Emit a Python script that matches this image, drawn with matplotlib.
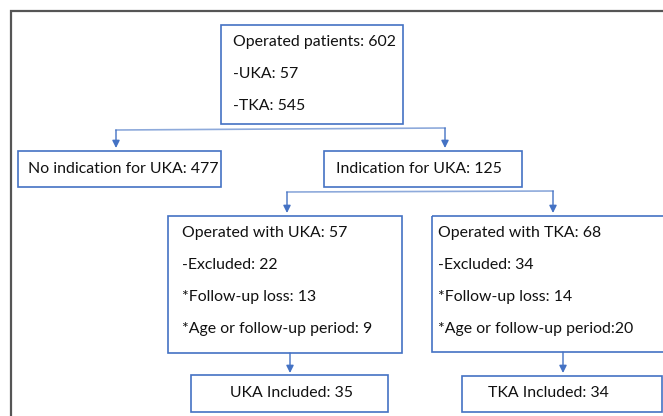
import matplotlib.pyplot as plt
from matplotlib.patches import Rectangle

plt.rcParams['font.family'] = ['Lato', 'DejaVu Sans']

# Box texts (lines in each box)
top_lines = ["Operated patients: 602", "-UKA: 57", "-TKA: 545"]
no_ind_lines = ["No indication for UKA: 477"]
ind_lines = ["Indication for UKA: 125"]
uka_lines = ["Operated with UKA: 57", "-Excluded: 22", "*Follow-up loss: 13",
             "*Age or follow-up period: 9"]
tka_lines = ["Operated with TKA: 68", "-Excluded: 34", "*Follow-up loss: 14",
             "*Age or follow-up period:20"]
uka_incl_lines = ["UKA Included: 35"]
tka_incl_lines = ["TKA Included: 34"]

blue = "#4472C4"
line_blue = "#8eaadb"
frame_gray = "#555555"

fig = plt.figure(figsize=(6.63, 4.16), dpi=100)
ax = fig.add_axes([0, 0, 1, 1])
ax.set_xlim(0, 663)
ax.set_ylim(416, 0)
ax.axis("off")

# outer frame (only top and left edges are inside the picture)
ax.plot([11, 11, 670], [430, 11, 11], color=frame_gray, lw=1.6,
        solid_joinstyle="miter")


def box(x0, y0, x1, y1, lines, tx, ty0, dy, ha="left"):
    ax.add_patch(Rectangle((x0, y0), x1 - x0, y1 - y0, fill=False,
                           edgecolor=blue, lw=1.2))
    for i, t in enumerate(lines):
        ax.text(tx, ty0 + i * dy, t, ha=ha, va="center", fontsize=11.4,
                color="#111111")


def arrow(x, y0, y1):
    ax.annotate("", xy=(x, y1), xytext=(x, y0),
                arrowprops=dict(arrowstyle="-|>", color=blue, lw=1.0,
                                mutation_scale=11, shrinkA=0, shrinkB=0))


box(221, 25, 403, 124, top_lines, 233, 42, 32)
box(18, 151, 221, 187, no_ind_lines, 28, 169, 0)
box(324, 151, 522, 187, ind_lines, 336, 169, 0)
box(168, 216, 402, 353, uka_lines, 182, 233, 32)
box(432, 216, 700, 352, tka_lines, 438, 233, 32)
box(191, 375, 388, 412, uka_incl_lines, 292, 393, 0, ha="center")
box(462, 376, 662, 412, tka_incl_lines, 548, 393, 0, ha="center")

# connectors
ax.plot([116, 445], [130, 128], color=line_blue, lw=1.2)
arrow(116, 130, 148)
arrow(445, 128, 148)
ax.plot([287, 553], [192, 191], color=line_blue, lw=1.2)
arrow(287, 192, 213)
arrow(553, 191, 213)
arrow(290, 353, 373)
arrow(563, 352, 373)

fig.savefig("out.png", dpi=100)
